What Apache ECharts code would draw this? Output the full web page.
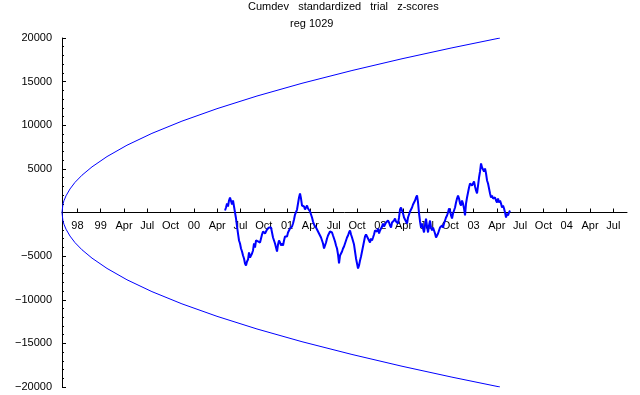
<!DOCTYPE html>
<html>
<head>
<meta charset="utf-8">
<script src="https://cdn.jsdelivr.net/npm/echarts@6/dist/echarts.min.js"></script>
<style>
  html, body { margin: 0; background: #fff; }
  #box { width: 640px; height: 395px; }
</style>
</head>
<body>
<div id="box"></div>
<script>
// x axis is in decimal years, y is the cumulative deviation

// quarter ticks along the time axis
var tickYears = [1998.75, 1999, 1999.25, 1999.5, 1999.75, 2000, 2000.25, 2000.5, 2000.75,
    2001, 2001.25, 2001.5, 2001.75, 2002, 2002.25, 2002.5, 2002.75,
    2003, 2003.25, 2003.5, 2003.75, 2004, 2004.25, 2004.5];
var tickLabels = ['98', '99', 'Apr', 'Jul', 'Oct', '00', 'Apr', 'Jul', 'Oct',
    '01', 'Apr', 'Jul', 'Oct', '02', 'Apr', 'Jul', 'Oct',
    '03', 'Apr', 'Jul', 'Oct', '04', 'Apr', 'Jul'];

// probability envelope (upper and lower branch)
var envYears = [1998.585, 1998.595, 1998.606, 1998.628, 1998.671, 1998.724, 1998.799, 1998.907,
    1999.068, 1999.282, 1999.550, 1999.872, 2000.248, 2000.677, 2001.160, 2001.696,
    2002.233, 2002.769, 2003.284];
var envUpper = [0, 960, 1350, 1910, 2700, 3450, 4270, 5230,
    6410, 7710, 9070, 10470, 11900, 13350, 14810, 16270,
    17620, 18870, 20000];
var envLower = [0, -960, -1350, -1910, -2700, -3450, -4270, -5230,
    -6410, -7710, -9070, -10470, -11900, -13350, -14810, -16270,
    -17620, -18870, -20000];

// cumdev samples, one every ~4 days starting May 2000
var devStart = 2000.334;
var devStep = 0.01073;
var devValues = [
    230, 570, 1030, 690, 1380, 1720, 1600, 920, 1380, 690,
    0, -690, -1600, -2410, -3210, -3550, -4130, -4470, -4930, -5270,
    -5840, -6070, -5620, -5390, -4580, -5160, -4930, -4700, -4350, -3550,
    -4010, -3210, -3210, -3320, -3210, -3440, -2980, -2520, -2180, -2060,
    -2410, -2180, -1950, -1950, -1720, -1830, -1720, -2290, -2870, -3210,
    -3550, -4010, -4470, -3670, -3210, -3440, -3780, -3550, -3780, -3210,
    -2750, -2640, -2750, -2290, -2060, -1830, -1830, -1600, -1260, -800,
    -230, -340, 340, 1030, 1720, 2180, 1600, 800, 800, 690,
    340, 570, 800, 460, 340, 110, -230, -570, -1030, -1380,
    -1490, -1720, -1830, -2180, -2410, -2520, -2870, -3090, -3550, -4130,
    -3780, -3440, -2980, -2640, -2410, -2180, -2060, -2290, -2640, -2980,
    -3320, -3780, -4130, -4810, -5840, -4930, -4700, -4470, -4130, -3900,
    -3550, -3210, -2870, -2640, -2290, -2060, -2520, -2870, -3090, -3670,
    -4470, -5270, -5840, -6420, -6070, -5500, -5040, -4470, -3900, -3320,
    -2750, -2520, -2520, -2980, -3210, -3440, -2980, -3210, -2870, -2520,
    -2060, -2180, -2180, -1830, -2410, -2060, -1830, -1600, -1260, -1600,
    -1380, -1150, -1260, -920, -1150, -1490, -1720, -1150, -1030, -920,
    -690, -1030, -1150, -1260, -570, 340, 570, 230, -110, -570,
    -800, -920, -1260, -570, -230, 110, 340, 570, 920, 1150,
    1380, 1720, 1950, 1150, -110, -1030, -1720, -1260, -1830, -2290,
    -1490, -690, -1600, -2290, -1490, -920, -1720, -2060, -1720, -1830,
    -2410, -2870, -2980, -2410, -2060, -1720, -1830, -1490, -1720, -1260,
    -920, -570, -340, 0, 460, 230, -340, -690, -110, 230,
    570, 1150, 1600, 1950, 1600, 1030, 800, 1380, 1030, 460,
    -340, 1030, 1720, 2290, 2870, 3320, 3440, 3090, 3210, 3550,
    2980, 2520, 2180, 3090, 4010, 4700, 5620, 5160, 5160, 4700,
    5040, 4470, 3670, 3320, 2750, 2180, 1720, 1950, 1600, 1380,
    1720, 1380, 1150, 1600, 1150, 1380, 1030, 570, 800, 460,
    0, -570, -110, -340, 0, 230
];

var upperData = envYears.map(function (t, i) { return [t, envUpper[i]]; });
var lowerData = envYears.map(function (t, i) { return [t, envLower[i]]; });
var devData = devValues.map(function (v, i) { return [devStart + i * devStep, v]; });

var myChart = echarts.init(document.getElementById('box'));

var option = {
    animation: false,
    backgroundColor: '#ffffff',
    textStyle: { fontFamily: 'Liberation Sans, Arial, sans-serif' },
    title: [{
        text: 'Cumdev   standardized   trial   z-scores',
        left: 248,
        top: 1,
        padding: 0,
        textStyle: { fontSize: 11, fontWeight: 'normal', color: '#000' }
    }, {
        text: 'reg 1029',
        left: 290,
        top: 18,
        padding: 0,
        textStyle: { fontSize: 11, fontWeight: 'normal', color: '#000' }
    }],
    grid: { left: 62, right: 13, top: 38, bottom: 8 },
    xAxis: {
        type: 'value',
        min: 1998.585,
        max: 2004.647,
        position: 'bottom',
        // the x axis sits on y = 0, halfway up the grid
        offset: -174.5,
        axisLine: { onZero: false, lineStyle: { color: '#000', width: 1 } },
        axisTick: { inside: true, length: 4, customValues: tickYears, lineStyle: { color: '#000' } },
        axisLabel: {
            customValues: tickYears,
            margin: 8,
            color: '#000',
            fontSize: 11,
            formatter: function (v) {
                for (var i = 0; i < tickYears.length; i++) {
                    if (Math.abs(tickYears[i] - v) < 0.001) return tickLabels[i];
                }
                return '';
            }
        },
        splitLine: { show: false }
    },
    yAxis: {
        type: 'value',
        min: -20000,
        max: 20000,
        interval: 5000,
        axisLine: { show: true, onZero: false, lineStyle: { color: '#000', width: 1 } },
        axisTick: { show: true, inside: true, length: 4, lineStyle: { color: '#000' } },
        minorTick: { show: true, splitNumber: 5, length: 2, lineStyle: { color: '#000' } },
        axisLabel: {
            margin: 10,
            color: '#000',
            fontSize: 11,
            formatter: function (v) {
                if (v === 0) return '';
                return v < 0 ? '\u2212' + (-v) : String(v);
            }
        },
        splitLine: { show: false }
    },
    series: [{
        name: 'upper',
        type: 'line',
        data: upperData,
        showSymbol: false,
        lineStyle: { color: '#0000ff', width: 1 }
    }, {
        name: 'lower',
        type: 'line',
        data: lowerData,
        showSymbol: false,
        lineStyle: { color: '#0000ff', width: 1 }
    }, {
        name: 'cumdev',
        type: 'line',
        data: devData,
        showSymbol: false,
        lineStyle: { color: '#0000ff', width: 2 }
    }]
};

myChart.setOption(option);
</script>
</body>
</html>
